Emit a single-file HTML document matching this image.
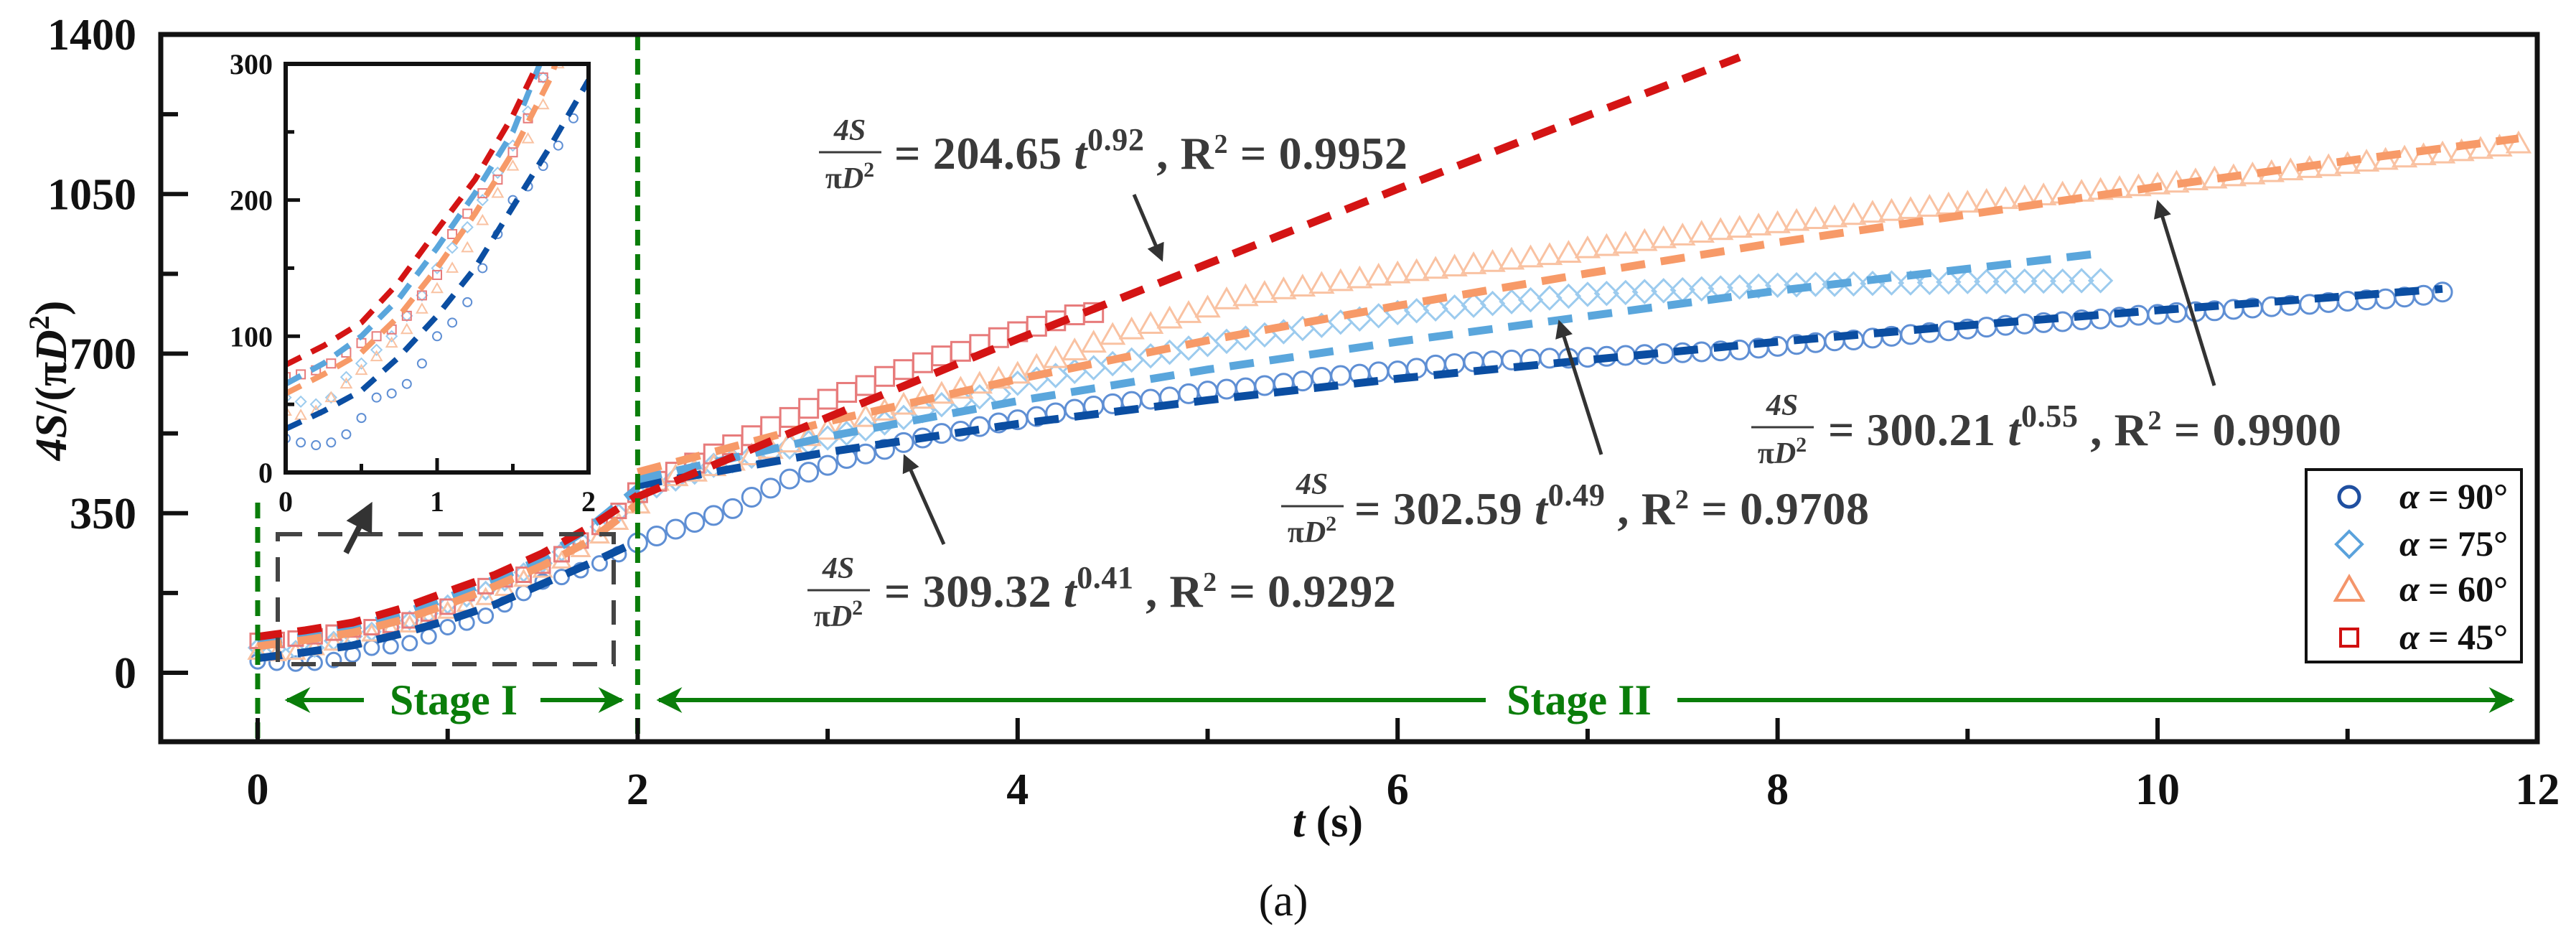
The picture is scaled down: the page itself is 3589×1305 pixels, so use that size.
<!DOCTYPE html>
<html><head><meta charset="utf-8"><style>
html,body{margin:0;padding:0;background:#fff;}
svg{display:block;}
svg text{font-family:"Liberation Serif","Times New Roman",serif;font-weight:bold;}
</style></head><body>
<svg id="chart" width="3589" height="1305" viewBox="0 0 3589 1305" xmlns="http://www.w3.org/2000/svg" font-family="Liberation Serif, serif" font-weight="bold">
<defs>
<marker id="ah" viewBox="0 0 10 10" refX="8" refY="5" markerWidth="5" markerHeight="5" orient="auto"><path d="M0,0 L10,5 L0,10 z" fill="#333"/></marker>
<marker id="gh" viewBox="0 0 10 10" refX="9" refY="5" markerWidth="6" markerHeight="6" orient="auto"><path d="M0,0 L10,5 L0,10 L3,5 z" fill="#0a7d0a"/></marker>
<clipPath id="mainclip"><rect x="224" y="48" width="3311" height="985"/></clipPath>
<clipPath id="insetclip"><rect x="398" y="89" width="422" height="569"/></clipPath>
</defs>
<g id="main-layer"></g>
<g id="inset-layer"></g>

<text transform="translate(92,530) rotate(-90)" text-anchor="middle" font-size="62" fill="#111"><tspan font-style="italic">4S</tspan>/(π<tspan font-style="italic">D</tspan><tspan font-size="40" dy="-24">2</tspan><tspan dy="24">)</tspan></text>
<text x="1850" y="1165" text-anchor="middle" font-size="62" fill="#111"><tspan font-style="italic">t</tspan> (s)</text>
<text x="1788" y="1275" text-anchor="middle" font-size="62" style="font-weight:normal" fill="#111">(a)</text>

<g>
<line x1="507" y1="975" x2="400" y2="975" stroke="#0a7d0a" stroke-width="6" marker-end="url(#gh)"/>
<line x1="753" y1="975" x2="866" y2="975" stroke="#0a7d0a" stroke-width="6" marker-end="url(#gh)"/>
<text x="632" y="995" text-anchor="middle" font-size="60" fill="#0a7d0a">Stage I</text>
</g>
<g>
<line x1="2070" y1="975" x2="918" y2="975" stroke="#0a7d0a" stroke-width="6" marker-end="url(#gh)"/>
<line x1="2337" y1="975" x2="3500" y2="975" stroke="#0a7d0a" stroke-width="6" marker-end="url(#gh)"/>
<text x="2200" y="995" text-anchor="middle" font-size="60" fill="#0a7d0a">Stage II</text>
</g>

<g fill="#3a3a3a">
<text x="1184" y="195" text-anchor="middle" font-size="42" font-style="italic">4S</text>
<line x1="1141" y1="212" x2="1228" y2="212" stroke="#3a3a3a" stroke-width="3"/>
<text x="1184" y="262" text-anchor="middle" font-size="42">π<tspan font-style="italic">D</tspan><tspan font-size="30" dy="-16">2</tspan></text>
<text x="1246" y="235" font-size="64" textLength="715" lengthAdjust="spacing">= 204.65 <tspan font-style="italic">t</tspan><tspan font-size="44" dy="-26">0.92</tspan><tspan dy="26"> , R</tspan><tspan font-size="38" dy="-22">2</tspan><tspan dy="22"> = 0.9952</tspan></text>
</g>
<line x1="1580" y1="271" x2="1618" y2="360" stroke="#333" stroke-width="5" marker-end="url(#ah)"/>

<g fill="#3a3a3a">
<text x="1168" y="805" text-anchor="middle" font-size="42" font-style="italic">4S</text>
<line x1="1125" y1="822" x2="1212" y2="822" stroke="#3a3a3a" stroke-width="3"/>
<text x="1168" y="872" text-anchor="middle" font-size="42">π<tspan font-style="italic">D</tspan><tspan font-size="30" dy="-16">2</tspan></text>
<text x="1232" y="845" font-size="64" textLength="713" lengthAdjust="spacing">= 309.32 <tspan font-style="italic">t</tspan><tspan font-size="44" dy="-26">0.41</tspan><tspan dy="26"> , R</tspan><tspan font-size="38" dy="-22">2</tspan><tspan dy="22"> = 0.9292</tspan></text>
</g>
<line x1="1315" y1="758" x2="1261" y2="637" stroke="#333" stroke-width="5" marker-end="url(#ah)"/>

<g fill="#3a3a3a">
<text x="1828" y="688" text-anchor="middle" font-size="42" font-style="italic">4S</text>
<line x1="1785" y1="705" x2="1872" y2="705" stroke="#3a3a3a" stroke-width="3"/>
<text x="1828" y="755" text-anchor="middle" font-size="42">π<tspan font-style="italic">D</tspan><tspan font-size="30" dy="-16">2</tspan></text>
<text x="1887" y="730" font-size="64" textLength="717" lengthAdjust="spacing">= 302.59 <tspan font-style="italic">t</tspan><tspan font-size="44" dy="-26">0.49</tspan><tspan dy="26"> , R</tspan><tspan font-size="38" dy="-22">2</tspan><tspan dy="22"> = 0.9708</tspan></text>
</g>
<line x1="2231" y1="633" x2="2173" y2="450" stroke="#333" stroke-width="5" marker-end="url(#ah)"/>

<g fill="#3a3a3a">
<text x="2483" y="578" text-anchor="middle" font-size="42" font-style="italic">4S</text>
<line x1="2440" y1="595" x2="2527" y2="595" stroke="#3a3a3a" stroke-width="3"/>
<text x="2483" y="645" text-anchor="middle" font-size="42">π<tspan font-style="italic">D</tspan><tspan font-size="30" dy="-16">2</tspan></text>
<text x="2547" y="620" font-size="64" textLength="715" lengthAdjust="spacing">= 300.21 <tspan font-style="italic">t</tspan><tspan font-size="44" dy="-26">0.55</tspan><tspan dy="26"> , R</tspan><tspan font-size="38" dy="-22">2</tspan><tspan dy="22"> = 0.9900</tspan></text>
</g>
<line x1="3085" y1="537" x2="3007" y2="283" stroke="#333" stroke-width="5" marker-end="url(#ah)"/>

<rect x="387" y="744" width="468" height="181" fill="none" stroke="#444" stroke-width="6" stroke-dasharray="34 22"/>
<line x1="482" y1="770" x2="515" y2="706" stroke="#333" stroke-width="8" marker-end="url(#ah)"/>

<g>
<rect x="3213" y="654" width="300" height="268" fill="#fff" stroke="#111" stroke-width="4"/>
<g><circle cx="3273" cy="692" r="14" fill="none" stroke="#1f4fa0" stroke-width="5"/><text x="3343" y="708" font-size="50" fill="#111"><tspan font-style="italic">α</tspan> = 90°</text></g>
<g><path d="M3273,740 L3291,758 L3273,776 L3255,758 Z" fill="none" stroke="#5aa2dc" stroke-width="4"/><text x="3343" y="774" font-size="50" fill="#111"><tspan font-style="italic">α</tspan> = 75°</text></g>
<g><path d="M3273,803 L3292,836 L3254,836 Z" fill="none" stroke="#f4956a" stroke-width="4"/><text x="3343" y="837" font-size="50" fill="#111"><tspan font-style="italic">α</tspan> = 60°</text></g>
<g><rect x="3261" y="876" width="24" height="24" fill="none" stroke="#d01010" stroke-width="4"/><text x="3343" y="904" font-size="50" fill="#111"><tspan font-style="italic">α</tspan> = 45°</text></g>
</g>
</svg>
<script>
const dt = 0.1;
const s90 = [25,22,20,22,28,40,55,58,65,80,100,110,125,150,175,200,210,225,240,260,285,300,315,330,345,360,385,405,425,440,455,470,480,490,505,515,525,530,540,548,555,562,570,578,585,590,595,600,605,612,618,622,625,630,635,640,648,652,655,660,662,668,675,678,682,684,686,688,690,690,692,694,696,698,700,702,704,706,708,712,716,720,724,728,730,734,738,742,746,750,754,758,762,765,768,770,774,776,780,784,786,790,792,794,797,800,803,806,808,812,815,818,820,824,828,835];
const s75 = [55,52,50,55,70,80,90,100,115,130,150,165,180,200,220,240,265,290,320,350,390,410,425,440,455,465,475,485,495,505,515,525,535,548,560,575,588,598,605,612,635,644,652,661,669,678,686,695,703,712,720,727,734,741,748,755,762,769,776,783,790,794,798,802,806,810,814,818,822,826,830,832,834,836,838,840,842,844,846,848,850,851,852,852,853,854,855,855,856,857,858,858,858,859,859,859,860,860];
const s60 = [45,42,45,55,65,75,85,95,105,120,135,150,165,185,205,225,245,270,300,330,370,420,430,440,452,464,476,490,504,518,532,546,560,574,587,600,611,622,633,644,655,672,689,706,723,740,752,764,776,788,800,818,825,832,840,846,852,858,864,870,875,880,885,890,895,900,905,910,915,920,930,935,940,946,952,958,964,970,975,980,985,990,994,998,1003,1008,1012,1016,1021,1026,1030,1034,1038,1042,1046,1050,1054,1058,1062,1066,1070,1074,1079,1083,1088,1092,1097,1101,1106,1110,1115,1120,1124,1129,1134,1138,1143,1148,1153,1160];
const s45 = [70,72,75,80,88,95,100,105,115,130,145,175,190,205,215,235,260,290,320,355,395,420,440,460,480,500,520,540,560,580,600,615,630,650,665,680,695,705,720,735,748,760,772,785,790];
const fit1T = [0,0.25,0.5,0.75,1,1.25,1.5,1.75,2];
const fit1_90 = [32,45,60,85,115,150,195,240,288];
const fit1_75 = [65,80,100,128,165,205,250,320,405];
const fit1_60 = [58,72,88,115,150,190,235,290,370];
const fit1_45 = [79,93,110,140,178,215,262,320,389];
const fit2T_90 = [2,3,4,5,6,7,8,9,10,11,11.5];
const fit2_90 = [411,484,546,598,645,686,726,762,795,826,842];
const fit2T_75 = [2,3,4,5,6,7,8,9,9.7];
const fit2_75 = [424,518,596,665,726,782,838,886,920];
const fit2T_60 = [2,3,4,5,6,7,8,9,10,11,11.9];
const fit2_60 = [440,551,644,729,805,876,944,1005,1066,1123,1172];
const fit2T_45 = [2,3,4,5,6,7,7.8];
const fit2_45 = [386,560,732,897,1061,1222,1350];
const xTicks = [0,2,4,6,8,10,12];
const yTicks = [0,350,700,1050,1400];
const insetXTicks = [0,1,2];
const insetYTicks = [0,100,200,300];

const X = t => 359 + t * 264.7;
const Y = v => 937 - v * 0.635;
const IX = t => 398 + t * 211;
const IY = v => 658 - v * 1.897;
const NS = 'http://www.w3.org/2000/svg';
const mainL = document.getElementById('main-layer');
const insL = document.getElementById('inset-layer');
function mk(tag, attrs, parent) {
  const e = document.createElementNS(NS, tag);
  for (const k in attrs) e.setAttribute(k, attrs[k]);
  parent.appendChild(e);
  return e;
}
const series = [
  {vals: s90, shape: 'circle', col: '#5f8fd4', name: 'series-90'},
  {vals: s75, shape: 'diamond', col: '#9ccbee', name: 'series-75'},
  {vals: s60, shape: 'triangle', col: '#f9c2a2', name: 'series-60'},
  {vals: s45, shape: 'square', col: '#e77b7b', name: 'series-45'}
];
function marker(shape, cx, cy, r, col, sw, parent) {
  let e;
  if (shape === 'circle') e = mk('circle', {cx: cx, cy: cy, r: r, fill: 'none', stroke: col, 'stroke-width': sw}, parent);
  else if (shape === 'diamond') e = mk('path', {d: `M${cx},${cy-r*1.2} L${cx+r*1.2},${cy} L${cx},${cy+r*1.2} L${cx-r*1.2},${cy} Z`, fill: 'none', stroke: col, 'stroke-width': sw}, parent);
  else if (shape === 'triangle') e = mk('path', {d: `M${cx},${cy-r*1.2} L${cx+r*1.2},${cy+r*0.9} L${cx-r*1.2},${cy+r*0.9} Z`, fill: 'none', stroke: col, 'stroke-width': sw}, parent);
  else e = mk('rect', {x: cx-r, y: cy-r, width: 2*r, height: 2*r, fill: 'none', stroke: col, 'stroke-width': sw}, parent);
  return e;
}
function fitPath(ts, vs, xs, ys) {
  return ts.map((t, i) => (i ? 'L' : 'M') + xs(t).toFixed(1) + ',' + ys(vs[i]).toFixed(1)).join(' ');
}
const fits = [
  {t1: fit1T, v1: fit1_90, t2: fit2T_90, v2: fit2_90, col: '#0b4ea2', name: 'fit-90'},
  {t1: fit1T, v1: fit1_75, t2: fit2T_75, v2: fit2_75, col: '#5aa6dc', name: 'fit-75'},
  {t1: fit1T, v1: fit1_60, t2: fit2T_60, v2: fit2_60, col: '#f79a68', name: 'fit-60'},
  {t1: fit1T, v1: fit1_45, t2: fit2T_45, v2: fit2_45, col: '#d41414', name: 'fit-45'}
];

const mg = mk('g', {'clip-path': 'url(#mainclip)'}, mainL);
series.forEach(s => {
  const g = mk('g', {}, mg);
  
  
  s.vals.forEach((v, i) => {
    const r = i * dt < 2 ? 10 : 13;
    const m = marker(s.shape, X(i * dt), Y(v), r, s.col, 3, g);
    
    
  });
});
fits.forEach(f => {
  const p1 = mk('path', {d: fitPath(f.t1, f.v1, X, Y), fill: 'none', stroke: f.col, 'stroke-width': 11, 'stroke-dasharray': '34 22'}, mg);
  
  
  const p2 = mk('path', {d: fitPath(f.t2, f.v2, X, Y), fill: 'none', stroke: f.col, 'stroke-width': 11, 'stroke-dasharray': '34 22'}, mg);
  
  
});
const d0 = mk('line', {x1: X(0), y1: 700, x2: X(0), y2: 1033, stroke: '#0a7d0a', 'stroke-width': 7, 'stroke-dasharray': '22 12'}, mainL);


const d2 = mk('line', {x1: X(2), y1: 48, x2: X(2), y2: 1033, stroke: '#0a7d0a', 'stroke-width': 7, 'stroke-dasharray': '22 12'}, mainL);


const fr = mk('rect', {x: 224, y: 48, width: 3311, height: 985, fill: 'none', stroke: '#111', 'stroke-width': 7}, mainL);


xTicks.forEach(t => {
  const l = mk('line', {x1: X(t), y1: 1033, x2: X(t), y2: 1000, stroke: '#111', 'stroke-width': 6}, mainL);
  
  
  const m = mk('line', {x1: X(t + 1), y1: 1033, x2: X(t + 1), y2: 1015, stroke: '#111', 'stroke-width': 6}, mainL);
  
  
  const tx = mk('text', {x: X(t), y: 1120, 'text-anchor': 'middle', 'font-size': 62, fill: '#111'}, mainL);
  tx.textContent = t;
  
  
});
yTicks.forEach(v => {
  const l = mk('line', {x1: 224, y1: Y(v), x2: 262, y2: Y(v), stroke: '#111', 'stroke-width': 6}, mainL);
  
  
  if (v < 1400) {
    const m = mk('line', {x1: 224, y1: Y(v + 175), x2: 248, y2: Y(v + 175), stroke: '#111', 'stroke-width': 6}, mainL);
    
    
  }
  const tx = mk('text', {x: 190, y: Y(v) + 21, 'text-anchor': 'end', 'font-size': 62, fill: '#111'}, mainL);
  tx.textContent = v;
  
  
});

const ibg = mk('rect', {x: 398, y: 89, width: 422, height: 569, fill: '#fff'}, insL);


const ig = mk('g', {'clip-path': 'url(#insetclip)'}, insL);
series.forEach(s => {
  const g = mk('g', {}, ig);
  
  
  s.vals.forEach((v, i) => {
    if (i * dt > 2.05) return;
    const m = marker(s.shape, IX(i * dt), IY(v), 6, s.col, 2, g);
    
    
  });
});
fits.forEach(f => {
  const p = mk('path', {d: fitPath(f.t1, f.v1, IX, IY), fill: 'none', stroke: f.col, 'stroke-width': 8, 'stroke-dasharray': '24 16'}, ig);
  
  
});
const ifr = mk('rect', {x: 398, y: 89, width: 422, height: 569, fill: 'none', stroke: '#111', 'stroke-width': 6}, insL);


insetXTicks.forEach(t => {
  const l = mk('line', {x1: IX(t), y1: 658, x2: IX(t), y2: 638, stroke: '#111', 'stroke-width': 5}, insL);
  
  
  if (t < 2) {
    const m = mk('line', {x1: IX(t + 0.5), y1: 658, x2: IX(t + 0.5), y2: 646, stroke: '#111', 'stroke-width': 5}, insL);
    
    
  }
  const tx = mk('text', {x: IX(t), y: 712, 'text-anchor': 'middle', 'font-size': 40, fill: '#111'}, insL);
  tx.textContent = t;
  
  
});
insetYTicks.forEach(v => {
  const l = mk('line', {x1: 398, y1: IY(v), x2: 418, y2: IY(v), stroke: '#111', 'stroke-width': 5}, insL);
  
  
  if (v < 300) {
    const m = mk('line', {x1: 398, y1: IY(v + 50), x2: 410, y2: IY(v + 50), stroke: '#111', 'stroke-width': 5}, insL);
    
    
  }
  const tx = mk('text', {x: 380, y: IY(v) + 14, 'text-anchor': 'end', 'font-size': 40, fill: '#111'}, insL);
  tx.textContent = v;
  
  
});
</script>
</body></html>
